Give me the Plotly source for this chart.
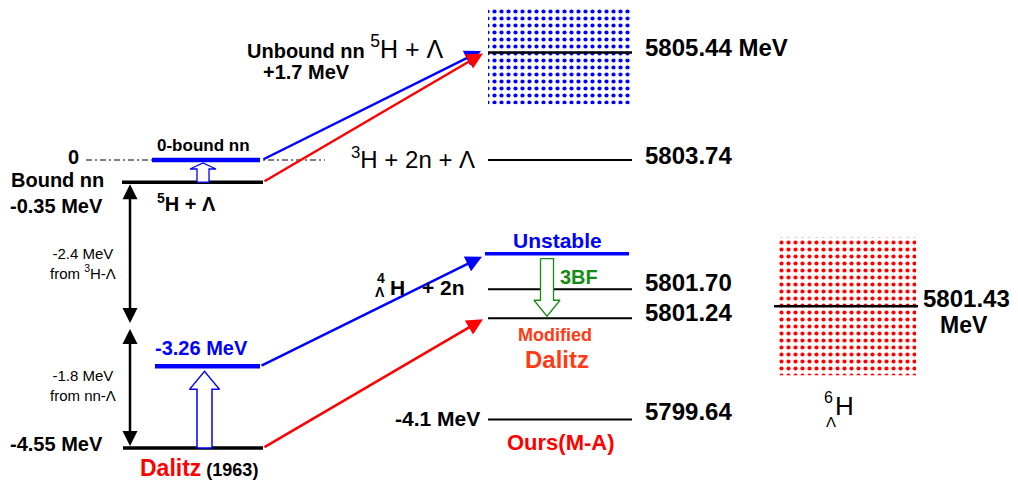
import plotly.graph_objects as go

# ---------------- data (MeV) ----------------
# left panel: 5H + Lambda picture, energies relative to 5H + Lambda threshold
left_names = ["0-bound nn", "Bound nn", "-3.26 MeV", "-4.55 MeV"]
left_levels = [0.0, -0.35, -3.26, -4.55]
left_colors = ["#0000ff", "#000000", "#0000ff", "#000000"]
split_level = -2.6          # where the -2.4 / -1.8 MeV pieces meet
seg_labels = ["-2.4 MeV<br>from <sup>3</sup>H-Λ", "-1.8 MeV<br>from nn-Λ"]

# middle panel: absolute masses
mid_names = ["Unbound nn 5H+Λ", "3H+2n+Λ", "Unstable", "4ΛH+2n", "Modified Dalitz", "Ours(M-A)"]
mid_masses = [5805.44, 5803.74, 5802.26, 5801.70, 5801.24, 5799.64]
mid_colors = ["#000000", "#000000", "#0000ff", "#000000", "#000000", "#000000"]
mass_labels = ["5805.44 MeV", "5803.74", "", "5801.70", "5801.24", "5799.64"]
threshold_mass = 5803.74
unbound_band = 0.82          # half height of dotted band around 5805.44

# right panel: 6ΛH
h6_mass = 5801.43
h6_band = 1.09

# ---------------- drawing helpers ----------------
FONT = "Liberation Sans, Arial, sans-serif"
OFF = 8                       # page body margin in the browser
W, H = 1018 - OFF, 488 - OFF  # figure size that fits the window
P = 63.3                      # px per MeV
ZERO_PIX = 160.0              # screen pixel of 0 MeV
YMAX = (ZERO_PIX - OFF) / P
YMIN = YMAX - H / P

BLUE, RED, BLACK, GREEN, ORANGE = "#0000ff", "#ff0000", "#000000", "#168c16", "#ff3b14"

def rel(m):
    return m - threshold_mass

mid_rel = [rel(m) for m in mid_masses]
h6_rel = rel(h6_mass)

fig = go.Figure()

def hline(x0, x1, y, color, width, dash="solid"):
    fig.add_trace(go.Scatter(x=[x0, x1], y=[y, y], mode="lines",
                             line=dict(color=color, width=width, dash=dash),
                             hoverinfo="skip", showlegend=False))

def band(x0, x1, yc, half, color):
    fig.add_trace(go.Scatter(x=[x0, x1, x1, x0, x0],
                             y=[yc + half, yc + half, yc - half, yc - half, yc + half],
                             mode="lines", fill="toself", line=dict(width=0, color="rgba(0,0,0,0)"),
                             fillcolor="white",
                             fillpattern=dict(shape=".", fgcolor=color, bgcolor="white",
                                              size=7, solidity=0.28, fillmode="replace"),
                             hoverinfo="skip", showlegend=False))

def block_arrow(xc, y_tail, y_tip, shaft_half, head_half, head_len_px, color, width=1.5):
    d = 1 if y_tip > y_tail else -1
    yb = y_tip - d * head_len_px / P
    xs = [xc - shaft_half, xc - shaft_half, xc - head_half, xc, xc + head_half,
          xc + shaft_half, xc + shaft_half, xc - shaft_half]
    ys = [y_tail, yb, yb, y_tip, yb, yb, y_tail, y_tail]
    fig.add_trace(go.Scatter(x=xs, y=ys, mode="lines", line=dict(color=color, width=width),
                             fill="toself", fillcolor="white",
                             hoverinfo="skip", showlegend=False))

ann = []

def arrow(x0, y0, x1, y1, color, width=2.5, size=1.3, side="end"):
    ann.append(dict(x=x1, y=y1, ax=x0, ay=y0, xref="x", yref="y", axref="x", ayref="y",
                    text="", showarrow=True, arrowhead=2, arrowsize=size, arrowwidth=width,
                    arrowcolor=color, standoff=0, startstandoff=0, arrowside=side))

def label(x, ypix, text, size, color=BLACK, xanchor="left", bold=True):
    t = f"<b>{text}</b>" if bold else text
    ann.append(dict(x=(x - OFF) / W, y=1 - (ypix - OFF) / H, xref="paper", yref="paper",
                    text=t, showarrow=False, xanchor=xanchor, yanchor="middle",
                    font=dict(family=FONT, size=size, color=color)))

def level_label(x, yval, shift, text, size, color=BLACK, xanchor="left"):
    ann.append(dict(x=x, y=yval, xref="x", yref="y", yshift=shift, text=f"<b>{text}</b>",
                    showarrow=False, xanchor=xanchor, yanchor="middle",
                    font=dict(family=FONT, size=size, color=color)))

# ---------------- bands ----------------
band(488, 632, mid_rel[0], unbound_band, BLUE)
band(777, 916, h6_rel, h6_band, RED)

# ---------------- left panel ----------------
hline(86, 325, left_levels[0], BLACK, 1.2, dash="6px,3px,2px,3px")
left_x = [(152, 260), (122, 263), (155, 260), (123, 263)]
left_w = [4.5, 3.5, 4.5, 3.5]
for (x0, x1), yv, c, w in zip(left_x, left_levels, left_colors, left_w):
    hline(x0, x1, yv, c, w)

# hollow arrows (blue)
block_arrow(203, left_levels[1], left_levels[0] - 3 / P, 6, 13, 6, BLUE, 1.3)
block_arrow(204.5, left_levels[3], left_levels[2] - 5 / P, 7.5, 15, 18, BLUE, 1.5)

# vertical double arrows
arrow(130, split_level, 130, left_levels[1] - 2 / P, BLACK, width=2.5, size=1.2, side="end+start")
arrow(130, split_level - 3 / P, 130, left_levels[3] + 2 / P, BLACK, width=2.5, size=1.2, side="end+start")

# ---------------- middle panel ----------------
for i, (yv, c) in enumerate(zip(mid_rel, mid_colors)):
    if i == 2:
        hline(485, 629, yv, c, 3.5)
    else:
        hline(488, 632, yv, c, 2.5 if i == 0 else 2)

# green hollow arrow (3BF)
block_arrow(547, mid_rel[2] - 5 / P, mid_rel[4] + 2 / P, 6.5, 13, 16, GREEN, 1.3)

# right panel level
hline(774, 918, h6_rel, BLACK, 2.5)

# connection arrows
arrow(262, left_levels[0], 481, mid_rel[0] + 1.5 / P, BLUE)
arrow(263, left_levels[1], 483, mid_rel[0] - 1 / P, RED)
arrow(260, left_levels[2], 482, mid_rel[2] - 3 / P, BLUE)
arrow(263, left_levels[3], 483, mid_rel[4] - 1 / P, RED)

# ---------------- texts ----------------
label(81, 157, "0", 20, xanchor="right")
label(9, 180, "Bound nn", 20)
label(8, 206, "-0.35 MeV", 20)
label(203, 145, left_names[0], 17, xanchor="center")
label(155, 202, "<sup>5</sup>H + Λ", 20)
label(83, 263, seg_labels[0], 15, xanchor="center", bold=False)
label(83, 385, seg_labels[1], 15, xanchor="center", bold=False)
label(153, 348, left_names[2], 20, color=BLUE)
label(8, 444, left_names[3], 20)
label(138, 468, "<span style='font-size:23px;color:#ff0000'>Dalitz</span> (1963)", 18)

label(245, 47, "Unbound nn <span style='font-weight:normal;font-size:25px'><sup>5</sup>H + Λ</span>", 20)
label(261, 72, "+1.7 MeV", 20)
label(349, 158, "<sup>3</sup>H + 2n + Λ", 24, bold=False)
label(557, 240, "Unstable", 21, color=BLUE, xanchor="center")
label(558, 277, "3BF", 20, color=GREEN)
label(381, 278, "4", 14, xanchor="center")
label(380, 292, "Λ", 14, xanchor="center")
label(388, 287, "H", 21)
label(420, 287, "+ 2n", 21)
label(555, 335, "Modified", 18, color=ORANGE, xanchor="center")
label(557, 359, "Dalitz", 24, color=ORANGE, xanchor="center")
label(482, 418, "-4.1 MeV", 21, xanchor="right")
label(561, 442, "Ours(M-A)", 22, color=RED, xanchor="center")

shifts = [5, 5, 0, 7, 6, 8]
for yv, txt, s in zip(mid_rel, mass_labels, shifts):
    if txt:
        level_label(643, yv, s, txt, 24)

level_label(921, h6_rel, 8, f"{h6_mass:.2f}", 24)
label(964, 325, "MeV", 23, xanchor="center")
label(828, 397, "6", 16, xanchor="center", bold=False)
label(831, 421, "Λ", 15, xanchor="center", bold=False)
label(833, 406, "H", 26, bold=False)

fig.update_layout(
    width=W, height=H, margin=dict(l=0, r=0, t=0, b=0),
    paper_bgcolor="white", plot_bgcolor="white",
    xaxis=dict(range=[OFF, OFF + W], visible=False, fixedrange=True),
    yaxis=dict(range=[YMIN, YMAX], visible=False, fixedrange=True),
    annotations=ann, showlegend=False,
)
fig.write_html("out.html")
